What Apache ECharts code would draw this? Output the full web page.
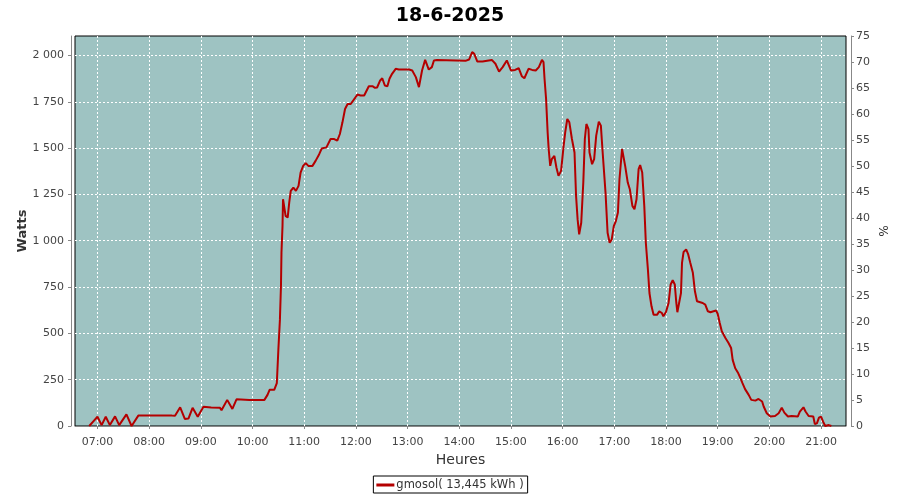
<!DOCTYPE html>
<html>
<head>
<meta charset="utf-8">
<script src="https://cdn.jsdelivr.net/npm/echarts@6/dist/echarts.min.js"></script>
<style>html,body{margin:0;padding:0;background:#fff}#c{width:900px;height:500px}</style>
</head>
<body>
<div id="c"></div>
<script>
// time of day in decimal hours
const hours = [6.84,6.92,7.00,7.08,7.16,7.24,7.34,7.42,7.56,7.66,7.79,8.44,8.50,8.60,8.69,8.76,8.84,8.94,9.05,9.20,9.37,9.40,9.51,9.61,9.69,9.94,10.23,10.26,10.29,10.33,10.42,10.45,10.47,10.50,10.53,10.55,10.56,10.58,10.59,10.62,10.64,10.68,10.71,10.74,10.79,10.84,10.89,10.93,10.98,11.03,11.08,11.16,11.22,11.29,11.34,11.43,11.51,11.58,11.64,11.69,11.74,11.79,11.84,11.90,11.93,12.03,12.09,12.16,12.25,12.32,12.37,12.41,12.47,12.51,12.56,12.61,12.65,12.70,12.77,12.83,13.03,13.09,13.16,13.22,13.25,13.28,13.34,13.38,13.41,13.47,13.51,13.57,14.12,14.19,14.25,14.29,14.35,14.45,14.63,14.70,14.77,14.84,14.92,15.00,15.08,15.15,15.21,15.26,15.34,15.41,15.48,15.54,15.60,15.63,15.65,15.68,15.71,15.73,15.76,15.79,15.84,15.88,15.92,15.97,16.02,16.05,16.09,16.13,16.18,16.23,16.26,16.29,16.32,16.36,16.40,16.43,16.46,16.50,16.52,16.57,16.61,16.65,16.70,16.74,16.77,16.83,16.87,16.91,16.95,16.99,17.03,17.07,17.10,17.15,17.18,17.21,17.26,17.30,17.35,17.39,17.43,17.47,17.50,17.54,17.58,17.61,17.65,17.68,17.72,17.76,17.83,17.87,17.92,17.95,18.00,18.05,18.09,18.13,18.17,18.20,18.22,18.25,18.29,18.31,18.34,18.39,18.43,18.47,18.52,18.56,18.60,18.63,18.71,18.76,18.81,18.86,18.92,18.97,19.00,19.04,19.08,19.15,19.21,19.26,19.29,19.34,19.39,19.44,19.48,19.53,19.60,19.65,19.73,19.79,19.86,19.89,19.95,20.02,20.11,20.18,20.24,20.29,20.36,20.43,20.55,20.59,20.66,20.70,20.76,20.85,20.88,20.92,20.96,21.00,21.04,21.08,21.15,21.20];
// power in watts
const watts = [0,25,50,5,50,5,52,5,63,0,56,56,55,101,38,40,98,50,104,100,98,85,141,92,144,141,141,132,168,195,195,186,231,412,574,754,935,1079,1224,1215,1134,1125,1206,1269,1287,1269,1296,1368,1404,1419,1404,1404,1431,1467,1498,1504,1549,1549,1540,1576,1639,1711,1738,1738,1747,1789,1784,1784,1834,1834,1825,1827,1865,1877,1838,1834,1874,1901,1928,1924,1924,1919,1883,1829,1838,1919,1976,1946,1924,1937,1973,1976,1971,1978,2018,2009,1967,1967,1976,1955,1913,1937,1973,1919,1922,1931,1888,1877,1928,1922,1919,1937,1976,1964,1874,1765,1585,1495,1404,1440,1458,1395,1350,1377,1513,1585,1657,1639,1549,1476,1242,1115,1034,1097,1314,1549,1630,1603,1476,1413,1440,1567,1643,1621,1495,1260,1043,989,1007,1079,1106,1152,1332,1495,1504,1404,1314,1278,1188,1170,1224,1386,1408,1368,1188,989,845,718,646,601,601,619,610,592,615,664,764,787,764,664,614,619,718,881,939,953,926,881,827,727,673,664,664,655,619,614,619,623,606,556,511,475,448,421,357,312,289,258,231,199,168,141,137,146,132,105,69,51,54,69,99,72,51,54,51,78,101,78,54,51,11,14,45,51,23,0,5,0];
const hourTicks = [7,8,9,10,11,12,13,14,15,16,17,18,19,20,21];
const wattTicks = [0,250,500,750,1000,1250,1500,1750,2000];
const pctTicks = [0,5,10,15,20,25,30,35,40,45,50,55,60,65,70,75];
const seriesName = 'gmosol( 13,445 kWh )';
const titleText = '18-6-2025';

const FONT = 'DejaVu Sans';
const chart = echarts.init(document.getElementById('c'), null, {renderer: 'canvas'});
const fmtW = v => String(v).replace(/\B(?=(\d{3})+(?!\d))/g, ' ');
const fmtH = v => (v < 10 ? '0' : '') + v + ':00';

chart.setOption({
  animation: false,
  backgroundColor: '#fff',
  title: {
    text: titleText, left: 'center', top: 2,
    textStyle: {fontFamily: FONT, fontSize: 19, fontWeight: 'bold', color: '#000'}
  },
  legend: {
    data: [seriesName], left: 'center', top: 476,
    borderColor: '#000', borderWidth: 1, borderRadius: 0, padding: [3, 4, 2, 3],
    icon: 'rect', itemWidth: 18, itemHeight: 3, itemGap: 4,
    textStyle: {fontFamily: FONT, fontSize: 11.5, color: '#333', padding: [0, 0, 0, -3]}
  },
  grid: {
    left: 75, right: 54, top: 36, bottom: 74,
    show: true, backgroundColor: '#9EC3C2', borderColor: '#000', borderWidth: 1
  },
  xAxis: {
    type: 'value', min: 6.565, max: 21.483, offset: 5,
    name: 'Heures', nameLocation: 'middle', nameGap: 22, nameMoveOverlap: false,
    nameTextStyle: {fontFamily: FONT, fontSize: 14, color: '#333'},
    axisLine: {show: true, lineStyle: {color: '#888', width: 1}},
    axisTick: {show: true, length: 3, customValues: hourTicks, lineStyle: {color: '#888'}},
    axisLabel: {customValues: hourTicks, formatter: fmtH, margin: 6,
      fontFamily: FONT, fontSize: 11, color: '#444'},
    splitLine: {show: true, lineStyle: {color: '#fff', type: [2, 2], width: 1}}
  },
  yAxis: [{
    type: 'value', min: 0, max: 2105, position: 'left', offset: 4,
    name: 'Watts', nameLocation: 'middle', nameGap: 42, nameMoveOverlap: false,
    nameTextStyle: {fontFamily: FONT, fontSize: 13, fontWeight: 'bold', color: '#333'},
    axisLine: {show: true, lineStyle: {color: '#888', width: 1}},
    axisTick: {show: true, length: 3, customValues: wattTicks, lineStyle: {color: '#888'}},
    axisLabel: {customValues: wattTicks, formatter: fmtW, margin: 7,
      fontFamily: FONT, fontSize: 11, color: '#444'},
    splitLine: {show: true, lineStyle: {color: '#fff', type: [2, 2], width: 1}}
  }, {
    type: 'value', min: 0, max: 75, position: 'right', offset: 5,
    name: '%', nameLocation: 'middle', nameGap: 25, nameRotate: -90, nameMoveOverlap: false,
    nameTextStyle: {fontFamily: FONT, fontSize: 12, color: '#333'},
    axisLine: {show: true, lineStyle: {color: '#888', width: 1}},
    axisTick: {show: true, length: 3, customValues: pctTicks, lineStyle: {color: '#888'}},
    axisLabel: {customValues: pctTicks, margin: 5,
      fontFamily: FONT, fontSize: 11, color: '#444'},
    splitLine: {show: false}
  }],
  series: [{
    name: seriesName, type: 'line', yAxisIndex: 0,
    data: hours.map((h, i) => [h, watts[i]]),
    showSymbol: false, smooth: false,
    lineStyle: {color: '#B40000', width: 2},
    itemStyle: {color: '#B40000'}
  }]
});
</script>
</body>
</html>
